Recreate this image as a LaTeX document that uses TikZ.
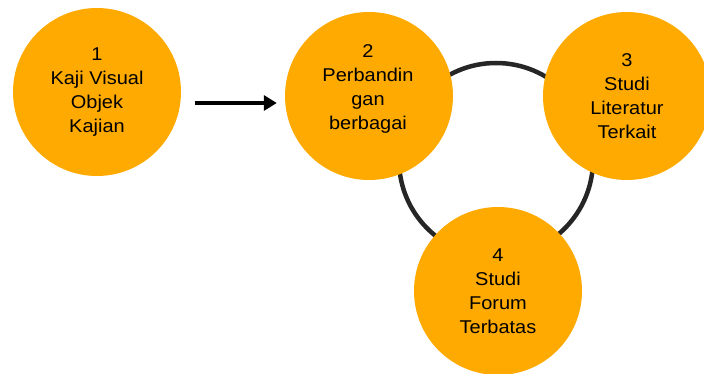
\documentclass[tikz,border=0pt]{standalone}
\usepackage{fontspec}
\setmainfont[FakeStretch=1.08]{Liberation Sans}
\usetikzlibrary{arrows.meta}
\definecolor{stageorange}{RGB}{255,170,0}
\tikzset{
	stage/.style={circle, fill=stageorange, minimum size=168pt, inner sep=0pt, align=center, font=\fontsize{18.5}{24}\selectfont},
	flow/.style={line width=4pt, -{Triangle[length=13pt,width=15pt]}},
	ring/.style={line width=4.5pt, black!85}
}
\begin{document}
	\begin{tikzpicture}[x=1pt,y=-1pt]
		\useasboundingbox (0,0) rectangle (704,374);

		\coordinate (ringc) at (496,160);
		\draw[ring] (ringc) circle (97);

		\node[stage] (n1) at (97,92) {1\\Kaji Visual\\Objek\\Kajian};
		\node[stage] (n2) at (369,96) {};
		\node[align=center, font=\fontsize{18.5}{24}\selectfont] (t2) at (368,89) {2\\Perbandin\\gan\\berbagai};
		\node[stage] (n3) at (627,96) {3\\Studi\\Literatur\\Terkait};
		\node[stage] (n4) at (498,291) {4\\Studi\\Forum\\Terbatas};

		\path (n1.east) ++(14,11) coordinate (as);
		\draw[flow, shorten >=8pt] (as) -- (as -| n2.west);
	\end{tikzpicture}
\end{document}
